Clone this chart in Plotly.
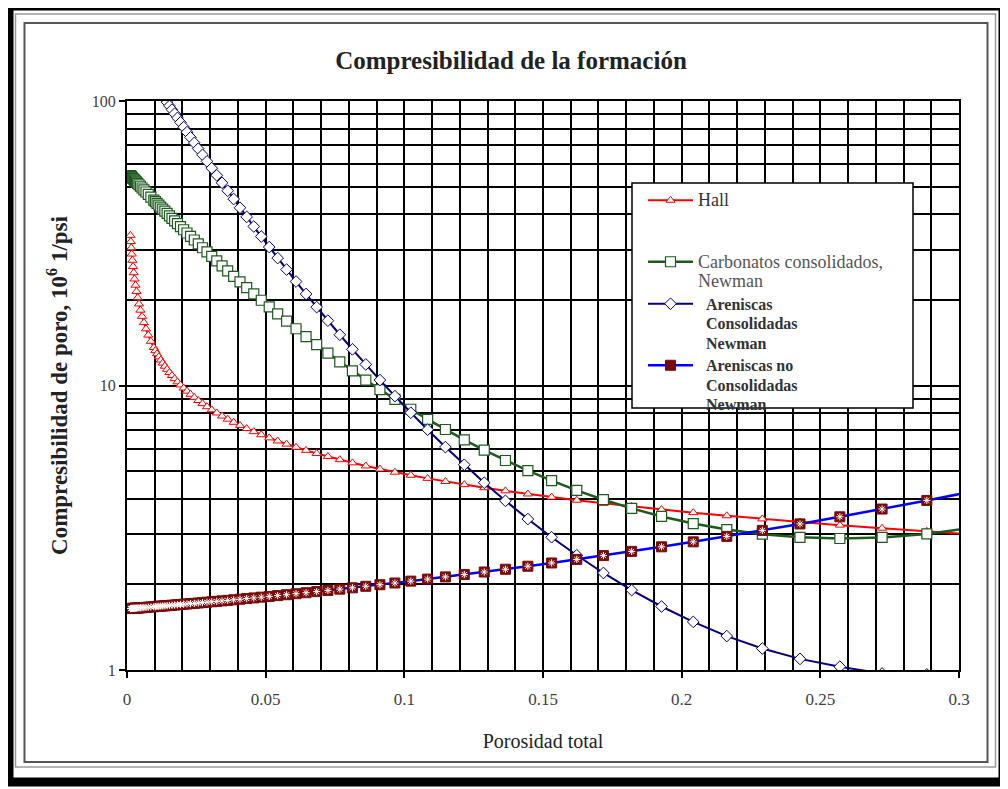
import plotly.graph_objects as go

# Compresibilidad de la formacion vs porosidad

porosidad = [
    0.001216, 0.001365, 0.001531, 0.001718, 0.001928, 0.002163, 0.002427, 0.002723, 0.003055, 0.003428,
    0.003846, 0.004315, 0.004842, 0.005433, 0.006095, 0.006839, 0.007674, 0.008610, 0.009661,
    0.010233, 0.010840, 0.011481, 0.012162, 0.012882, 0.013646, 0.014454, 0.015310, 0.016218, 0.017179,
    0.018197, 0.019275, 0.020418, 0.021627, 0.022908, 0.024266, 0.025704, 0.027227, 0.028840, 0.030549,
    0.032359, 0.034277, 0.036308, 0.038459, 0.040738, 0.043152, 0.045709, 0.048417, 0.051286, 0.054325,
    0.057544, 0.060954, 0.064565, 0.068391, 0.072444, 0.076736, 0.081283, 0.086099, 0.091201, 0.096605,
    0.10233, 0.10840, 0.11481, 0.12162, 0.12882, 0.13646, 0.14454, 0.15310, 0.16218, 0.17179,
    0.18197, 0.19275, 0.20418, 0.21627, 0.22908, 0.24266, 0.25704, 0.27227, 0.28840, 0.30549]

hall = [
    33.71, 32.05, 30.48, 28.98, 27.55, 26.20, 24.91, 23.68, 22.52, 21.41,
    20.36, 19.35, 18.40, 17.50, 16.64, 15.82, 15.04, 14.30, 13.60,
    13.26, 12.93, 12.61, 12.29, 11.99, 11.69, 11.40, 11.11, 10.84, 10.57,
    10.30, 10.05, 9.797, 9.553, 9.315, 9.083, 8.857, 8.636, 8.421, 8.211,
    8.007, 7.807, 7.613, 7.423, 7.238, 7.058, 6.882, 6.711, 6.544, 6.381,
    6.222, 6.067, 5.916, 5.769, 5.625, 5.485, 5.348, 5.215, 5.085, 4.958,
    4.836, 4.715, 4.598, 4.483, 4.372, 4.263, 4.157, 4.053, 3.952, 3.854,
    3.758, 3.664, 3.573, 3.484, 3.397, 3.313, 3.230, 3.150, 3.071, 2.995]

carbonatos = [
    54.63, 54.43, 54.22, 53.98, 53.71, 53.41, 53.08, 52.71, 52.30, 51.84,
    51.34, 50.78, 50.15, 49.46, 48.71, 47.87, 46.96, 45.95, 44.86,
    44.28, 43.67, 43.04, 42.38, 41.70, 40.99, 40.25, 39.49, 38.70, 37.88,
    37.04, 36.17, 35.28, 34.36, 33.42, 32.46, 31.48, 30.49, 29.47, 28.44,
    27.40, 26.34, 25.27, 24.20, 23.13, 22.07, 21.00, 19.94, 18.89, 17.85,
    16.83, 15.83, 14.86, 13.91, 13.00, 12.11, 11.26, 10.45, 9.676, 8.943,
    8.252, 7.605, 7.003, 6.440, 5.923, 5.449, 5.017, 4.628, 4.277, 3.968,
    3.698, 3.465, 3.272, 3.117, 3.001, 2.927, 2.899, 2.923, 3.009, 3.174]

areniscas_cons = [
    157.3, 156.4, 155.5, 154.5, 153.3, 152.0, 150.6, 149.0, 147.3, 145.3,
    143.2, 140.8, 138.2, 135.4, 132.3, 128.8, 125.1, 121.1, 116.7,
    114.5, 112.1, 109.6, 107.1, 104.5, 101.8, 98.98, 96.13, 93.22, 90.23,
    87.19, 84.09, 80.93, 77.73, 74.50, 71.24, 67.96, 64.66, 61.36, 58.07,
    54.82, 51.57, 48.37, 45.23, 42.14, 39.14, 36.22, 33.39, 30.67, 28.05,
    25.56, 23.20, 20.97, 18.86, 16.90, 15.08, 13.40, 11.86, 10.45, 9.174,
    8.021, 6.992, 6.075, 5.265, 4.553, 3.932, 3.393, 2.929, 2.531, 2.193,
    1.909, 1.672, 1.476, 1.316, 1.190, 1.094, 1.027, 0.972, 0.965, 0.990]

areniscas_no_cons = [
    1.644, 1.645, 1.645, 1.646, 1.646, 1.647, 1.648, 1.648, 1.649, 1.650,
    1.652, 1.653, 1.655, 1.656, 1.658, 1.660, 1.663, 1.666, 1.669,
    1.671, 1.673, 1.674, 1.677, 1.679, 1.681, 1.684, 1.686, 1.689, 1.692,
    1.696, 1.699, 1.703, 1.707, 1.711, 1.715, 1.720, 1.725, 1.731, 1.737,
    1.743, 1.750, 1.757, 1.765, 1.773, 1.783, 1.792, 1.803, 1.814, 1.826,
    1.839, 1.854, 1.869, 1.886, 1.904, 1.924, 1.945, 1.969, 1.994, 2.022,
    2.053, 2.087, 2.124, 2.165, 2.210, 2.260, 2.316, 2.378, 2.447, 2.524,
    2.612, 2.710, 2.822, 2.949, 3.095, 3.262, 3.455, 3.680, 3.944, 4.254]

SERIF = "Liberation Serif, Times New Roman, serif"

# the page body adds an 8 px margin, so the figure is 8 px smaller and
# every position below is given in screen pixels of the final picture
OFF = 8
FW, FH = 1008 - OFF, 789 - OFF
PL, PR, PT, PB = 127, 959, 101, 670  # plot area on screen


def fx(px):
    return (px - PL) / (PR - PL)


def fy(py):
    return (PB - py) / (PB - PT)


fig = go.Figure()

fig.add_trace(go.Scatter(
    x=porosidad, y=hall, legendgroup="g1",
    name='<span style="font-size:18px">Hall</span><br>&nbsp;<br>&nbsp;',
    mode="lines+markers",
    line=dict(color="#FF0000", width=2),
    marker=dict(symbol="triangle-up", size=8, color="white",
                line=dict(color="#FF0000", width=1))))

fig.add_trace(go.Scatter(
    x=porosidad, y=carbonatos, legendgroup="g2",
    name='<span style="font-size:18px;color:#555555">Carbonatos consolidados,<br>Newman</span>',
    mode="lines+markers",
    line=dict(color="#1D5B1D", width=2.5),
    marker=dict(symbol="square", size=10, color="white",
                line=dict(color="#1D5B1D", width=1.2))))

fig.add_trace(go.Scatter(
    x=porosidad, y=areniscas_cons, legendgroup="g3",
    name='<span style="font-size:16px"><b>&nbsp;&nbsp;Areniscas<br>&nbsp;&nbsp;Consolidadas<br>&nbsp;&nbsp;Newman</b></span>',
    mode="lines+markers",
    line=dict(color="#000080", width=2),
    marker=dict(symbol="diamond", size=9, color="white",
                line=dict(color="#000080", width=1))))

fig.add_trace(go.Scatter(
    x=porosidad, y=areniscas_no_cons, legendgroup="g4",
    name='<span style="font-size:16px"><b>&nbsp;&nbsp;Areniscas no<br>&nbsp;&nbsp;Consolidadas<br>&nbsp;&nbsp;Newman</b></span>',
    mode="lines+markers",
    line=dict(color="#0000FF", width=2.5),
    marker=dict(symbol="square", size=10, color="#7A0A0A",
                line=dict(color="#7A0A0A", width=1))))

fig.add_trace(go.Scatter(
    x=porosidad, y=areniscas_no_cons, legendgroup="g4", showlegend=False,
    mode="markers",
    marker=dict(symbol="asterisk-open", size=6, color="white",
                line=dict(color="white", width=1))))

grid = dict(showgrid=True, gridcolor="black", gridwidth=1.8)

fig.update_xaxes(
    range=[0, 0.3], tick0=0, dtick=0.05, **grid,
    minor=dict(dtick=0.01, showgrid=True, gridcolor="black", gridwidth=1.8),
    ticks="outside", ticklen=6, tickwidth=1.5, tickcolor="black",
    ticklabelstandoff=7, automargin=False,
    showline=True, linecolor="black", linewidth=2, mirror=True, zeroline=False,
    tickfont=dict(family=SERIF, size=17, color="#404040"),
    title=dict(text="Porosidad total", standoff=26,
               font=dict(family=SERIF, size=20, color="#222222")))

fig.update_yaxes(
    type="log", range=[0, 2], dtick=1, **grid,
    minor=dict(dtick="D1", showgrid=True, gridcolor="black", gridwidth=1.8),
    ticks="outside", ticklen=6, tickwidth=1.5, tickcolor="black",
    automargin=False,
    showline=True, linecolor="black", linewidth=2, mirror=True, zeroline=False,
    tickfont=dict(family=SERIF, size=16, color="#404040"),
    title=dict(text="<b>Compresibilidad de poro, 10<sup>6</sup> 1/psi</b>", standoff=18,
               font=dict(family=SERIF, size=23, color="#222222")))

shapes = [
    # legend box
    dict(type="rect", xref="paper", yref="paper", layer="above",
         x0=fx(632), x1=fx(913), y0=fy(183), y1=fy(408),
         fillcolor="white", line=dict(color="black", width=1.5)),
    # outer frames
    dict(type="rect", xref="paper", yref="paper",
         x0=fx(9), x1=fx(1003), y0=fy(6), y1=fy(782),
         line=dict(color="black", width=9)),
    dict(type="rect", xref="paper", yref="paper",
         x0=fx(15.5), x1=fx(995.5), y0=fy(14), y1=fy(767),
         line=dict(color="#9A9A9A", width=1.5)),
    dict(type="rect", xref="paper", yref="paper",
         x0=fx(24.5), x1=fx(987.5), y0=fy(23), y1=fy(762),
         line=dict(color="#555555", width=2)),
]

fig.update_layout(
    width=FW, height=FH, autosize=False,
    margin=dict(l=PL - OFF, r=1008 - PR, t=PT - OFF, b=789 - PB),
    paper_bgcolor="white", plot_bgcolor="white",
    title=dict(text="<b>Compresibilidad de la formación</b>",
               x=fx(511), xref="paper", xanchor="center",
               y=1 - (60 - OFF) / FH, yref="container", yanchor="middle",
               font=dict(family=SERIF, size=25, color="#222222")),
    legend=dict(x=fx(643), y=fy(184), xanchor="left", yanchor="top",
                bgcolor="rgba(0,0,0,0)", borderwidth=0,
                font=dict(family=SERIF, size=15, color="#333333"),
                valign="top", itemwidth=45, tracegroupgap=0),
    shapes=shapes,
    showlegend=True,
)

fig.write_html("out.html")
